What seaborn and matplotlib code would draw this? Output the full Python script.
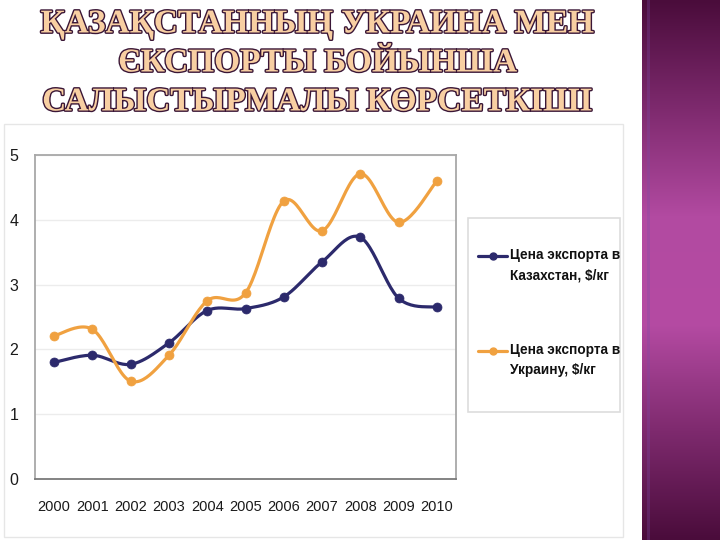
import numpy as np
import pandas as pd
import matplotlib
matplotlib.use("Agg")
import matplotlib.pyplot as plt
import seaborn as sns
import matplotlib.patheffects as pe
from matplotlib import font_manager
from matplotlib.lines import Line2D
from matplotlib.patches import Rectangle
from matplotlib.colors import LinearSegmentedColormap

# data
years = ['2000', '2001', '2002', '2003', '2004', '2005',
         '2006', '2007', '2008', '2009', '2010']
kz_price = [1.80, 1.91, 1.77, 2.10, 2.60, 2.63, 2.81, 3.35, 3.73, 2.79, 2.65]
ua_price = [2.21, 2.31, 1.51, 1.91, 2.75, 2.87, 4.29, 3.83, 4.71, 3.96, 4.60]
kz_label = 'Цена экспорта в\nКазахстан, $/кг'
ua_label = 'Цена экспорта в\nУкраину, $/кг'
y_ticks = [0, 1, 2, 3, 4, 5]
title_lines = ['ҚАЗАҚСТАННЫҢ УКРАИНА МЕН',
               'ЄКСПОРТЫ БОЙЫНША',
               'САЛЫСТЫРМАЛЫ КӨРСЕТКІШІ']

KZ_COLOR = '#2c2a6c'
UA_COLOR = '#f0a140'

sns.set_style("white")
names = {f.name for f in font_manager.fontManager.ttflist}
narrow = 'Liberation Sans Narrow' if 'Liberation Sans Narrow' in names else 'Liberation Sans'
plt.rcParams['font.family'] = [narrow, 'DejaVu Sans']
tick_size = 12 if narrow == 'Liberation Sans Narrow' else 10.5
legend_size = 11 if narrow == 'Liberation Sans Narrow' else 9.8

W, H = 720, 540


def fx(x):
    return x / W


def fy(y):
    return 1 - y / H


def smooth(xs, ys, n=24):
    # Catmull-Rom path through the points, like Excel's smoothed line
    p = np.column_stack([xs, ys]).astype(float)
    p = np.vstack([p[0], p, p[-1]])
    t = np.linspace(0, 1, n, endpoint=False)[:, None]
    segs = []
    for i in range(1, len(p) - 2):
        p0, p1, p2, p3 = p[i - 1], p[i], p[i + 1], p[i + 2]
        segs.append(0.5 * (2 * p1 + (-p0 + p2) * t
                           + (2 * p0 - 5 * p1 + 4 * p2 - p3) * t ** 2
                           + (-p0 + 3 * p1 - 3 * p2 + p3) * t ** 3))
    segs.append(p[-2][None, :])
    return np.vstack(segs)


fig = plt.figure(figsize=(7.2, 5.4), dpi=100)

# chart area frame
fig.add_artist(Rectangle((fx(4), fy(537)), fx(619), 413 / H,
                         transform=fig.transFigure, fill=False,
                         edgecolor='#e6e6e6', lw=1))

ax = fig.add_axes([fx(35), fy(479), fx(421), 324 / H])
xpos = np.arange(len(years))
for vals, col in [(kz_price, KZ_COLOR), (ua_price, UA_COLOR)]:
    curve = smooth(xpos, vals)
    df = pd.DataFrame({'x': curve[:, 0], 'y': curve[:, 1]})
    sns.lineplot(data=df, x='x', y='y', sort=False, estimator=None,
                 color=col, lw=2.3, ax=ax)
    pts = pd.DataFrame({'x': xpos, 'y': vals})
    sns.scatterplot(data=pts, x='x', y='y', color=col, s=42,
                    edgecolor=col, linewidth=0.5, ax=ax, zorder=3)

ax.set_xlim(-0.5, len(years) - 0.5)
ax.set_ylim(0, 5)
ax.set_xticks(xpos)
ax.set_xticklabels(years)
ax.set_xticks(xpos[:-1] + 0.5, minor=True)
ax.set_yticks(y_ticks)
ax.set_xlabel('')
ax.set_ylabel('')
ax.tick_params(axis='x', which='major', length=0, pad=15, labelsize=tick_size, labelcolor='#1a1a1a')
ax.tick_params(axis='x', which='minor', length=5, color='#d4d4d4', width=1)
ax.tick_params(axis='y', length=0, pad=12, labelsize=tick_size + 1, labelcolor='#1a1a1a')
ax.yaxis.grid(True, color='#ececec', lw=1)
ax.set_axisbelow(True)
for side in ['top', 'right', 'left']:
    ax.spines[side].set_color('#a8a8a8')
    ax.spines[side].set_linewidth(1.3)
ax.spines['bottom'].set_color('#7a7a7a')
ax.spines['bottom'].set_linewidth(1.3)

# legend box drawn by hand so the marker sits on the first text line
fig.add_artist(Rectangle((fx(468), fy(412)), fx(152), 194 / H,
                         transform=fig.transFigure, fill=False,
                         edgecolor='#dddddd', lw=1.2))
for label, col, y in [(kz_label, KZ_COLOR, 256), (ua_label, UA_COLOR, 351)]:
    fig.add_artist(Line2D([fx(478), fx(507)], [fy(y), fy(y)],
                          transform=fig.transFigure, color=col, lw=2.3))
    fig.add_artist(Line2D([fx(492.5)], [fy(y)], transform=fig.transFigure,
                          color=col, marker='o', ms=5))
    fig.text(fx(510), fy(y - 8), label, ha='left', va='top', fontsize=legend_size,
             fontweight='bold', color='#111111', linespacing=1.55)

# title
for line, y in zip(title_lines, [24, 63, 102]):
    fig.text(fx(318), fy(y), line, ha='center', va='center', fontsize=24,
             fontweight='bold', family=['Liberation Serif', 'DejaVu Serif'],
             color='#f8cfa2',
             path_effects=[pe.withStroke(linewidth=2.0, foreground='#3a1636')])

# purple band on the right
band = fig.add_axes([fx(642), 0, fx(78), 1])
cmap = LinearSegmentedColormap.from_list(
    'band', ['#4a0c3b', '#7e2a6e', '#b24aa1', '#b54ba3', '#7e2a6e', '#4a0c3b'])
band.imshow(np.linspace(0, 1, 256)[:, None], aspect='auto', cmap=cmap,
            extent=[0, 1, 0, 1])
band.axvspan(0.06, 0.10, color='#7a4aa8', alpha=0.3, lw=0)
band.set_xlim(0, 1)
band.set_ylim(0, 1)
band.axis('off')

fig.savefig('out.png', dpi=100)
